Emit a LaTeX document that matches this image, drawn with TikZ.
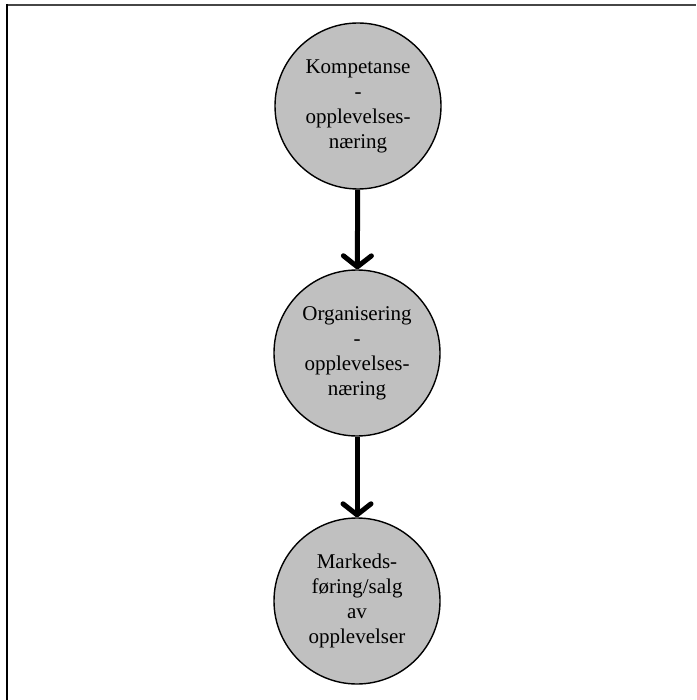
\documentclass[tikz,border=0pt]{standalone}
\usepackage{fontspec}
\setmainfont{Liberation Serif}
\usetikzlibrary{arrows.meta}

\definecolor{stagegray}{RGB}{192,192,192}
\definecolor{framegray}{RGB}{70,70,70}

\tikzset{
	stage/.style={circle, draw=black, line width=1.4pt, fill=stagegray, minimum size=166pt, inner sep=0pt, align=center, font=\fontsize{21}{25}\selectfont},
	flow/.style={line width=5pt, -{Straight Barb[round, length=11pt, width=28pt]}}
}

\begin{document}
\begin{tikzpicture}[x=1pt,y=-1pt]
		\useasboundingbox (0,0) rectangle (696,700);
		
		%frame
		\draw[line width=2pt, framegray] (6,5) -- (696,5);
		\draw[line width=2pt, black] (7,4) -- (7,700);
		
		%stages
		\node[stage] (kompetanse) at (358,106) {Kompetanse\\-\\opplevelses-\\næring};
		\node[stage] (organisering) at (357,353) {Organisering\\-\\opplevelses-\\næring};
		\node[stage] (marked) at (357,601) {Markeds-\\føring/salg\\av\\opplevelser};
		
		%arrows
		\draw[flow] (kompetanse) -- (organisering);
		\draw[flow] (organisering) -- (marked);
		
\end{tikzpicture}
\end{document}
